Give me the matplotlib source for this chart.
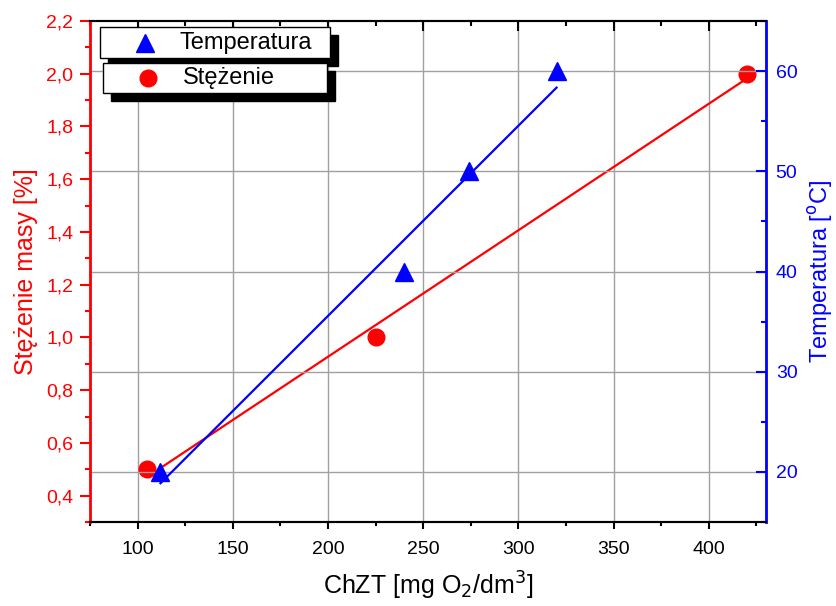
import matplotlib.pyplot as plt
import numpy as np
from matplotlib.ticker import MultipleLocator, FuncFormatter
from matplotlib.patches import Rectangle

plt.rcParams['font.family'] = ['Liberation Sans', 'DejaVu Sans']

# data
chzt_conc = [105, 225, 420]
conc = [0.5, 1.0, 2.0]
chzt_temp = [112, 240, 274, 320]
temp = [20, 40, 50, 60]
fit_range_conc = [112, 420]
fit_range_temp = [112, 320]

fig = plt.figure(figsize=(8.36, 6.06), dpi=100)
ax = fig.add_axes([90 / 836, 1 - 522 / 606, 676 / 836, 501 / 606])
ax2 = ax.twinx()

# linear fits
a1, b1 = np.polyfit(chzt_conc, conc, 1)
a2, b2 = np.polyfit(chzt_temp, temp, 1)
xf1 = np.array(fit_range_conc)
xf2 = np.array(fit_range_temp)

ax.plot(xf1, a1 * xf1 + b1, color='red', lw=1.6, zorder=3)
ax.plot(chzt_conc, conc, 'o', color='red', ms=12, zorder=4)
ax2.plot(xf2, a2 * xf2 + b2, color='blue', lw=1.6, zorder=3)
ax2.plot(chzt_temp, temp, '^', color='blue', ms=13.5, zorder=4)

ax.set_xlim(75, 430)
ax.set_ylim(0.3, 2.2)
ax2.set_ylim(15, 65)

ax.xaxis.set_major_locator(MultipleLocator(50))
ax.xaxis.set_minor_locator(MultipleLocator(25))
ax.yaxis.set_major_locator(MultipleLocator(0.2))
ax.yaxis.set_minor_locator(MultipleLocator(0.1))
ax.yaxis.set_major_formatter(FuncFormatter(lambda v, p: f'{v:.1f}'.replace('.', ',')))
ax2.yaxis.set_major_locator(MultipleLocator(10))
ax2.yaxis.set_minor_locator(MultipleLocator(5))

# grid: vertical from x, horizontal from right axis
ax.grid(True, axis='x', color='#a0a0a0', lw=1)
ax2.grid(True, axis='y', color='#a0a0a0', lw=1)
ax.set_axisbelow(True)
ax2.set_axisbelow(True)

ax.tick_params(axis='x', which='both', direction='out', top=True, labelsize=14, width=1.5, pad=9)
ax.tick_params(axis='x', which='major', length=5)
ax.tick_params(axis='x', which='minor', length=3)
ax.tick_params(axis='y', which='both', direction='out', colors='red', labelsize=14, width=1.5, pad=5)
ax.tick_params(axis='y', which='major', length=7)
ax.tick_params(axis='y', which='minor', length=3.5)
ax2.tick_params(axis='y', which='both', direction='in', colors='blue', labelsize=14, width=1.5, pad=7)
ax2.tick_params(axis='y', which='major', length=7)
ax2.tick_params(axis='y', which='minor', length=3.5)
ax.xaxis.set_tick_params(which='both', labeltop=False)
# top ticks point inward, a bit longer
for t in ax.xaxis.get_major_ticks():
    t.tick2line.set_marker(3)
    t.tick2line.set_markersize(7)
for t in ax.xaxis.get_minor_ticks():
    t.tick2line.set_marker(3)
    t.tick2line.set_markersize(3.5)

for a in (ax, ax2):
    a.spines['top'].set_linewidth(1.5)
    a.spines['bottom'].set_linewidth(1.5)
ax2.spines['left'].set_color('red')
ax2.spines['left'].set_linewidth(2)
ax2.spines['right'].set_color('blue')
ax2.spines['right'].set_linewidth(2)

ax.set_xlabel('ChZT [mg O$_2$/dm$^3$]', fontsize=18, labelpad=8)
ax.set_ylabel('Stężenie masy [%]', fontsize=18, color='red', labelpad=6)
ax2.set_ylabel('Temperatura [$^{\\mathrm{o}}$C]', fontsize=17, color='blue', labelpad=6)

# Origin-style legend boxes with black shadows
def legend_box(x0, y0, w, h, marker, color, label):
    fig.add_artist(Rectangle((x0 + 8, y0 - 8), w, h, transform=None, facecolor='black',
                             edgecolor='black', zorder=10))
    fig.add_artist(Rectangle((x0, y0), w, h, transform=None, facecolor='white',
                             edgecolor='black', lw=1, zorder=11))
    fig.lines.append(plt.Line2D([x0 + 45], [y0 + h / 2], marker=marker, color=color,
                                ms=12 if marker == 'o' else 13, transform=None, zorder=12))
    fig.text(x0 + 80, y0 + h / 2, label, fontsize=17, va='center', ha='left',
             transform=None, zorder=12)

legend_box(100, 606 - 58, 230, 31, '^', 'blue', 'Temperatura')
legend_box(103, 606 - 93, 224, 30, 'o', 'red', 'Stężenie')

fig.savefig('out.png', dpi=100)
